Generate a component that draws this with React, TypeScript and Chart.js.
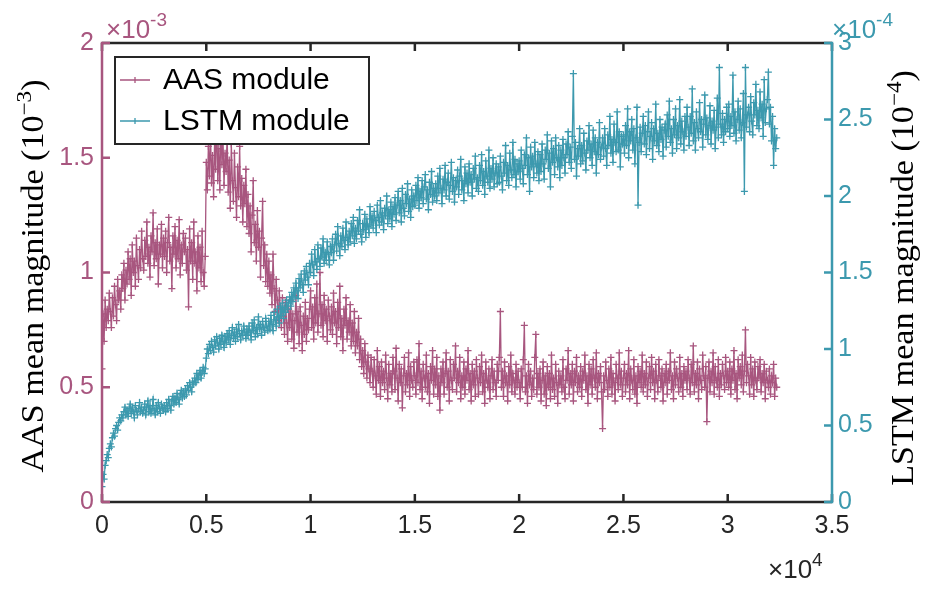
import React, { useEffect, useRef } from 'react';
import { Chart, registerables } from 'chart.js';

Chart.register(...registerables);

// iterations between logged samples
const STEP = 50;

// AAS module mean magnitude, in units of 1e-3 (one row = 1000 iterations)
const AAS_VALUES = [
  0.58, 0.82, 0.70, 0.88, 0.76, 0.84, 0.79, 0.91, 0.83, 0.76, 0.89, 0.81, 0.94, 0.86, 0.79, 0.97, 0.88, 0.92, 0.84, 0.99,
  0.93, 1.04, 0.88, 1.01, 0.95, 1.09, 0.97, 1.06, 0.90, 1.12, 1.00, 1.05, 0.94, 1.15, 1.03, 0.97, 1.10, 1.02, 1.18, 1.06,
  1.01, 1.14, 1.07, 1.22, 1.04, 1.11, 0.98, 1.16, 1.09, 1.26, 1.03, 1.13, 1.06, 1.19, 0.95, 1.12, 1.08, 1.21, 1.02, 1.15,
  1.07, 1.18, 1.00, 1.13, 1.24, 1.05, 1.11, 0.93, 1.16, 1.08, 1.20, 1.02, 1.14, 1.06, 1.23, 0.99, 1.12, 1.04, 1.17, 1.09,
  1.15, 1.01, 1.10, 0.85, 1.19, 1.05, 1.13, 0.97, 1.22, 1.04, 1.09, 0.92, 1.16, 1.02, 1.11, 0.96, 1.18, 1.00, 0.94, 1.07,
  1.48, 1.36, 1.55, 1.42, 1.63, 1.39, 1.51, 1.33, 1.58, 1.45, 1.70, 1.40, 1.54, 1.36, 1.66, 1.47, 1.59, 1.38, 1.52, 1.44,
  1.60, 1.35, 1.49, 1.28, 1.56, 1.40, 1.31, 1.52, 1.37, 1.24, 1.46, 1.33, 1.55, 1.29, 1.41, 1.22, 1.38, 1.30, 1.45, 1.20,
  1.34, 1.17, 1.29, 1.09, 1.25, 1.40, 1.13, 1.21, 1.05, 1.27, 1.11, 1.18, 0.98, 1.15, 1.31, 1.03, 1.12, 0.96, 1.08, 0.94,
  1.05, 0.91, 0.99, 0.86, 1.08, 0.93, 0.83, 0.97, 0.88, 0.79, 0.92, 0.84, 0.76, 0.89, 0.81, 0.73, 0.87, 0.78, 0.70, 0.84,
  0.76, 0.88, 0.71, 0.82, 0.67, 0.79, 0.90, 0.74, 0.83, 0.69, 0.85, 0.77, 0.66, 0.81, 0.73, 0.87, 0.70, 0.80, 0.75, 0.84,
  0.92, 0.76, 0.85, 0.71, 0.89, 0.78, 0.95, 0.74, 0.82, 1.00, 0.77, 0.86, 0.72, 0.90, 0.79, 0.84, 0.70, 0.88, 0.81, 0.75,
  0.85, 0.73, 0.91, 0.78, 0.83, 0.69, 0.87, 0.76, 0.94, 0.72, 0.80, 0.66, 0.84, 0.77, 0.89, 0.71, 0.79, 0.74, 0.86, 0.68,
  0.78, 0.70, 0.83, 0.65, 0.74, 0.68, 0.80, 0.62, 0.71, 0.59, 0.66, 0.56, 0.69, 0.61, 0.54, 0.64, 0.58, 0.52, 0.63, 0.57,
  0.50, 0.62, 0.55, 0.47, 0.66, 0.53, 0.59, 0.46, 0.61, 0.52, 0.57, 0.49, 0.64, 0.54, 0.45, 0.60, 0.51, 0.56, 0.48, 0.63,
  0.57, 0.49, 0.67, 0.54, 0.44, 0.60, 0.52, 0.58, 0.41, 0.55, 0.63, 0.48, 0.56, 0.51, 0.65, 0.46, 0.59, 0.53, 0.50, 0.61,
  0.55, 0.47, 0.62, 0.52, 0.69, 0.49, 0.57, 0.45, 0.60, 0.54, 0.50, 0.64, 0.48, 0.56, 0.43, 0.59, 0.53, 0.66, 0.47, 0.58,
  0.51, 0.63, 0.46, 0.55, 0.40, 0.58, 0.52, 0.61, 0.47, 0.56, 0.65, 0.50, 0.57, 0.44, 0.62, 0.53, 0.49, 0.60, 0.54, 0.68,
  0.48, 0.57, 0.52, 0.63, 0.45, 0.55, 0.50, 0.61, 0.47, 0.58, 0.53, 0.66, 0.49, 0.56, 0.44, 0.60, 0.51, 0.57, 0.46, 0.62,
  0.54, 0.47, 0.59, 0.52, 0.64, 0.48, 0.56, 0.43, 0.61, 0.53, 0.50, 0.58, 0.45, 0.55, 0.62, 0.49, 0.57, 0.52, 0.46, 0.60,
  0.53, 0.63, 0.83, 0.50, 0.57, 0.46, 0.61, 0.52, 0.55, 0.44, 0.59, 0.51, 0.64, 0.48, 0.56, 0.53, 0.47, 0.60, 0.50, 0.57,
  0.52, 0.45, 0.58, 0.50, 0.62, 0.77, 0.48, 0.55, 0.43, 0.60, 0.51, 0.57, 0.46, 0.54, 0.49, 0.63, 0.73, 0.47, 0.56, 0.50,
  0.58, 0.44, 0.53, 0.61, 0.47, 0.55, 0.42, 0.59, 0.50, 0.56, 0.45, 0.64, 0.49, 0.54, 0.46, 0.60, 0.52, 0.43, 0.57, 0.51,
  0.55, 0.48, 0.62, 0.50, 0.45, 0.58, 0.53, 0.66, 0.47, 0.56, 0.51, 0.60, 0.44, 0.57, 0.52, 0.63, 0.48, 0.55, 0.50, 0.59,
  0.46, 0.57, 0.53, 0.64, 0.49, 0.55, 0.43, 0.60, 0.51, 0.58, 0.47, 0.62, 0.54, 0.50, 0.65, 0.45, 0.56, 0.52, 0.59, 0.48,
  0.32, 0.55, 0.49, 0.61, 0.53, 0.46, 0.58, 0.50, 0.63, 0.47, 0.56, 0.52, 0.44, 0.60, 0.54, 0.49, 0.65, 0.51, 0.57, 0.46,
  0.54, 0.60, 0.48, 0.56, 0.51, 0.66, 0.45, 0.58, 0.53, 0.49, 0.62, 0.47, 0.55, 0.43, 0.59, 0.52, 0.57, 0.50, 0.64, 0.48,
  0.56, 0.51, 0.61, 0.46, 0.54, 0.59, 0.49, 0.63, 0.52, 0.57, 0.45, 0.60, 0.53, 0.48, 0.62, 0.55, 0.50, 0.58, 0.44, 0.56,
  0.52, 0.60, 0.47, 0.57, 0.53, 0.65, 0.49, 0.55, 0.45, 0.61, 0.51, 0.58, 0.54, 0.48, 0.63, 0.50, 0.56, 0.46, 0.59, 0.53,
  0.57, 0.49, 0.62, 0.54, 0.47, 0.60, 0.52, 0.68, 0.48, 0.56, 0.51, 0.61, 0.45, 0.58, 0.53, 0.49, 0.64, 0.55, 0.50, 0.59,
  0.35, 0.54, 0.61, 0.48, 0.57, 0.52, 0.65, 0.47, 0.59, 0.53, 0.50, 0.62, 0.46, 0.56, 0.51, 0.60, 0.55, 0.49, 0.63, 0.52,
  0.57, 0.50, 0.61, 0.47, 0.58, 0.53, 0.66, 0.49, 0.56, 0.45, 0.62, 0.54, 0.59, 0.51, 0.64, 0.48, 0.57, 0.75, 0.52, 0.60,
  0.55, 0.47, 0.63, 0.51, 0.58, 0.46, 0.61, 0.53, 0.49, 0.59, 0.54, 0.62, 0.48, 0.56, 0.52, 0.60, 0.45, 0.57, 0.53, 0.50,
  0.58, 0.47, 0.55, 0.52, 0.60, 0.46, 0.54, 0.50,
];

// LSTM module mean magnitude, in units of 1e-4 (one row = 1000 iterations)
const LSTM_VALUES = [
  0.10, 0.18, 0.15, 0.24, 0.27, 0.31, 0.29, 0.35, 0.38, 0.36, 0.42, 0.45, 0.43, 0.48, 0.50, 0.47, 0.52, 0.55, 0.53, 0.57,
  0.55, 0.59, 0.62, 0.57, 0.60, 0.56, 0.61, 0.64, 0.58, 0.62, 0.59, 0.55, 0.63, 0.60, 0.57, 0.61, 0.65, 0.59, 0.62, 0.58,
  0.60, 0.64, 0.57, 0.62, 0.66, 0.59, 0.63, 0.58, 0.61, 0.67, 0.60, 0.57, 0.63, 0.59, 0.65, 0.61, 0.58, 0.64, 0.62, 0.60,
  0.63, 0.59, 0.65, 0.61, 0.67, 0.63, 0.60, 0.66, 0.69, 0.64, 0.68, 0.65, 0.71, 0.67, 0.64, 0.70, 0.73, 0.68, 0.72, 0.69,
  0.74, 0.70, 0.76, 0.73, 0.78, 0.75, 0.72, 0.79, 0.77, 0.81, 0.78, 0.84, 0.80, 0.83, 0.86, 0.81, 0.85, 0.88, 0.84, 0.87,
  0.94, 1.00, 0.97, 1.03, 0.99, 1.05, 1.01, 0.98, 1.06, 1.02, 1.08, 1.04, 1.00, 1.07, 1.03, 1.09, 1.05, 1.01, 1.08, 1.04,
  1.10, 1.06, 1.12, 1.03, 1.09, 1.14, 1.07, 1.11, 1.05, 1.13, 1.08, 1.16, 1.10, 1.06, 1.12, 1.09, 1.15, 1.11, 1.07, 1.13,
  1.09, 1.15, 1.11, 1.06, 1.17, 1.12, 1.19, 1.08, 1.14, 1.10, 1.21, 1.13, 1.16, 1.09, 1.18, 1.14, 1.11, 1.20, 1.15, 1.12,
  1.18, 1.13, 1.22, 1.16, 1.12, 1.24, 1.19, 1.15, 1.26, 1.21, 1.17, 1.28, 1.22, 1.30, 1.20, 1.27, 1.24, 1.32, 1.26, 1.30,
  1.34, 1.28, 1.37, 1.31, 1.40, 1.34, 1.43, 1.38, 1.33, 1.46, 1.40, 1.49, 1.42, 1.37, 1.51, 1.45, 1.54, 1.47, 1.42, 1.56,
  1.50, 1.62, 1.55, 1.48, 1.65, 1.57, 1.52, 1.68, 1.59, 1.54, 1.66, 1.60, 1.72, 1.56, 1.63, 1.58, 1.70, 1.62, 1.55, 1.67,
  1.63, 1.72, 1.58, 1.68, 1.75, 1.64, 1.80, 1.69, 1.61, 1.74, 1.67, 1.79, 1.71, 1.65, 1.83, 1.73, 1.68, 1.77, 1.70, 1.82,
  1.74, 1.86, 1.69, 1.79, 1.72, 1.84, 1.77, 1.91, 1.75, 1.70, 1.82, 1.78, 1.88, 1.73, 1.85, 1.80, 1.76, 1.93, 1.81, 1.87,
  1.79, 1.90, 1.84, 1.76, 1.94, 1.86, 1.81, 1.97, 1.83, 1.89, 1.78, 1.92, 1.87, 2.00, 1.82, 1.91, 1.85, 1.96, 1.80, 1.93,
  1.88, 1.99, 1.84, 1.94, 2.03, 1.89, 1.97, 1.83, 2.05, 1.92, 1.87, 2.01, 1.95, 2.08, 1.90, 1.98, 1.86, 2.04, 1.93, 2.00,
  1.94, 2.07, 1.97, 2.12, 1.92, 2.03, 1.99, 2.10, 1.95, 2.06, 2.14, 1.98, 2.04, 1.91, 2.09, 2.01, 2.16, 1.96, 2.05, 2.00,
  2.08, 1.97, 2.13, 2.02, 2.18, 2.05, 1.95, 2.11, 2.04, 2.20, 2.00, 2.09, 2.15, 1.98, 2.07, 2.22, 2.03, 2.12, 1.96, 2.10,
  2.06, 2.17, 2.01, 2.13, 2.24, 2.04, 2.10, 1.97, 2.19, 2.08, 2.15, 2.02, 2.21, 2.09, 2.14, 2.00, 2.18, 2.11, 2.26, 2.05,
  2.12, 2.03, 2.20, 2.10, 2.27, 2.07, 2.16, 2.01, 2.23, 2.13, 2.09, 2.30, 2.05, 2.18, 2.11, 2.25, 2.06, 2.15, 2.21, 2.08,
  2.19, 2.09, 2.26, 2.13, 2.04, 2.22, 2.15, 2.33, 2.10, 2.20, 2.07, 2.28, 2.17, 2.12, 2.35, 2.14, 2.24, 2.06, 2.21, 2.16,
  2.23, 2.11, 2.30, 2.18, 2.08, 2.27, 2.20, 2.38, 2.14, 2.25, 2.03, 2.32, 2.19, 2.26, 2.12, 2.35, 2.21, 2.15, 2.29, 2.10,
  2.27, 2.16, 2.34, 2.21, 2.11, 2.30, 2.24, 2.40, 2.18, 2.28, 2.06, 2.36, 2.22, 2.31, 2.14, 2.38, 2.25, 2.19, 2.33, 2.12,
  2.30, 2.20, 2.37, 2.25, 2.15, 2.34, 2.27, 2.42, 2.22, 2.32, 2.18, 2.39, 2.80, 2.24, 2.35, 2.13, 2.31, 2.26, 2.44, 2.21,
  2.33, 2.23, 2.41, 2.28, 2.17, 2.36, 2.30, 2.46, 2.25, 2.34, 2.20, 2.43, 2.29, 2.38, 2.15, 2.35, 2.27, 2.48, 2.24, 2.32,
  2.38, 2.26, 2.44, 2.31, 2.20, 2.40, 2.33, 2.52, 2.28, 2.37, 2.22, 2.47, 2.35, 2.29, 2.55, 2.30, 2.42, 2.19, 2.39, 2.34,
  2.40, 2.28, 2.46, 2.33, 2.57, 2.25, 2.42, 2.36, 2.50, 2.30, 2.44, 2.21, 2.38, 2.58, 1.94, 2.35, 2.45, 2.29, 2.41, 2.52,
  2.34, 2.46, 2.27, 2.42, 2.55, 2.31, 2.39, 2.48, 2.24, 2.44, 2.36, 2.60, 2.33, 2.41, 2.29, 2.50, 2.37, 2.45, 2.26, 2.43,
  2.47, 2.32, 2.53, 2.39, 2.62, 2.35, 2.44, 2.28, 2.50, 2.40, 2.57, 2.31, 2.46, 2.38, 2.63, 2.34, 2.49, 2.42, 2.30, 2.52,
  2.39, 2.58, 2.45, 2.33, 2.52, 2.41, 2.70, 2.36, 2.48, 2.30, 2.55, 2.44, 2.38, 2.61, 2.42, 2.50, 2.32, 2.47, 2.66, 2.40,
  2.51, 2.37, 2.46, 2.59, 2.34, 2.49, 2.43, 2.56, 2.31, 2.45, 2.64, 2.38, 2.84, 2.47, 2.40, 2.54, 2.35, 2.50, 2.42, 2.58,
  2.44, 2.60, 2.39, 2.52, 2.46, 2.79, 2.41, 2.55, 2.36, 2.50, 2.62, 2.43, 2.57, 2.38, 2.48, 2.67, 2.03, 2.84, 2.45, 2.53,
  2.58, 2.42, 2.65, 2.49, 2.40, 2.61, 2.53, 2.73, 2.46, 2.56, 2.44, 2.68, 2.51, 2.60, 2.39, 2.76, 2.48, 2.57, 2.63, 2.81,
  2.47, 2.58, 2.36, 2.52, 2.20, 2.44, 2.31, 2.38,
];

const X_TICKS = [0, 5000, 10000, 15000, 20000, 25000, 30000, 35000];
const LEFT_TICKS = [0, 0.5, 1, 1.5, 2];
const RIGHT_TICKS = [0, 0.5, 1, 1.5, 2, 2.5, 3];

const AAS_COLOR = 'rgb(168, 86, 127)';
const LSTM_COLOR = 'rgb(60, 153, 174)';
const AXIS_COLOR = '#262626';
const SANS = '"Liberation Sans", Arial, Helvetica, sans-serif';
const SERIF = '"Liberation Serif", "Times New Roman", serif';

const toPoints = (values: number[]) => values.map((v, i) => ({ x: i * STEP, y: v }));

// draws "×10" followed by a raised exponent
function drawMultiplier(ctx: CanvasRenderingContext2D, x: number, y: number, exp: string, color: string) {
  ctx.fillStyle = color;
  ctx.textAlign = 'left';
  ctx.textBaseline = 'alphabetic';
  ctx.font = `26px ${SANS}`;
  ctx.fillText('\u00d710', x, y);
  const w = ctx.measureText('\u00d710').width;
  ctx.font = `19px ${SANS}`;
  ctx.fillText(exp, x + w, y - 12);
}

// rotated serif axis title with a superscript exponent
function drawTitle(ctx: CanvasRenderingContext2D, cx: number, cy: number, head: string, exp: string) {
  const main = 31;
  const small = 21;
  ctx.save();
  ctx.translate(cx, cy);
  ctx.rotate(-Math.PI / 2);
  ctx.scale(1.1, 1);
  ctx.fillStyle = '#000';
  ctx.textBaseline = 'middle';
  ctx.textAlign = 'left';
  ctx.font = `${main}px ${SERIF}`;
  const w1 = ctx.measureText(head).width;
  const w3 = ctx.measureText(')').width;
  ctx.font = `${small}px ${SERIF}`;
  const w2 = ctx.measureText(exp).width;
  let x = -(w1 + w2 + w3) / 2;
  ctx.font = `${main}px ${SERIF}`;
  ctx.fillText(head, x, 0);
  x += w1;
  ctx.font = `${small}px ${SERIF}`;
  ctx.fillText(exp, x, -10);
  x += w2;
  ctx.font = `${main}px ${SERIF}`;
  ctx.fillText(')', x, 0);
  ctx.restore();
}

const framePlugin = {
  id: 'frame',
  afterDraw(chart: any) {
    const { ctx, chartArea: a, scales } = chart;
    const xs = scales.x;
    const yl = scales.yL;
    const yr = scales.yR;
    const tick = 8;
    ctx.save();
    ctx.lineWidth = 2.5;
    ctx.lineCap = 'butt';

    ctx.strokeStyle = AXIS_COLOR;
    ctx.beginPath();
    ctx.moveTo(a.left, a.bottom);
    ctx.lineTo(a.right, a.bottom);
    ctx.moveTo(a.left, a.top);
    ctx.lineTo(a.right, a.top);
    X_TICKS.forEach((t) => {
      const px = xs.getPixelForValue(t);
      ctx.moveTo(px, a.bottom);
      ctx.lineTo(px, a.bottom - tick);
      ctx.moveTo(px, a.top);
      ctx.lineTo(px, a.top + tick);
    });
    ctx.stroke();

    ctx.strokeStyle = AAS_COLOR;
    ctx.beginPath();
    ctx.moveTo(a.left, a.top - 1.25);
    ctx.lineTo(a.left, a.bottom + 1.25);
    LEFT_TICKS.forEach((t) => {
      const py = yl.getPixelForValue(t);
      ctx.moveTo(a.left, py);
      ctx.lineTo(a.left + tick, py);
    });
    ctx.stroke();

    ctx.strokeStyle = LSTM_COLOR;
    ctx.beginPath();
    ctx.moveTo(a.right, a.top - 1.25);
    ctx.lineTo(a.right, a.bottom + 1.25);
    RIGHT_TICKS.forEach((t) => {
      const py = yr.getPixelForValue(t);
      ctx.moveTo(a.right, py);
      ctx.lineTo(a.right - tick, py);
    });
    ctx.stroke();

    // legend box
    const lx = 115, ly = 57, lw = 254, lh = 87;
    ctx.fillStyle = '#fff';
    ctx.fillRect(lx, ly, lw, lh);
    ctx.strokeStyle = AXIS_COLOR;
    ctx.lineWidth = 2;
    ctx.strokeRect(lx, ly, lw, lh);
    const rows = [
      { label: 'AAS module', color: AAS_COLOR, y: ly + 23 },
      { label: 'LSTM module', color: LSTM_COLOR, y: ly + 64 },
    ];
    rows.forEach((r) => {
      ctx.strokeStyle = r.color;
      ctx.lineWidth = 1.3;
      ctx.beginPath();
      ctx.moveTo(lx + 5, r.y);
      ctx.lineTo(lx + 35, r.y);
      ctx.moveTo(lx + 20, r.y - 3);
      ctx.lineTo(lx + 20, r.y + 3);
      ctx.stroke();
      ctx.fillStyle = '#000';
      ctx.font = `30px ${SANS}`;
      ctx.textAlign = 'left';
      ctx.textBaseline = 'middle';
      ctx.fillText(r.label, lx + 48, r.y + 1);
    });

    drawMultiplier(ctx, a.left + 4, 38, '-3', AAS_COLOR);
    drawMultiplier(ctx, a.right, 38, '-4', LSTM_COLOR);
    drawMultiplier(ctx, 768, 578, '4', AXIS_COLOR);

    drawTitle(ctx, 35, 276, 'AAS mean magnitude (10', '\u22123');
    drawTitle(ctx, 905, 278, 'LSTM mean magnitude (10', '\u22124');
    ctx.restore();
  },
};

const App = () => {
  const canvasRef = useRef<HTMLCanvasElement>(null);

  useEffect(() => {
    if (!canvasRef.current) return;

    const series = (label: string, values: number[], color: string, axis: string, order: number) => ({
      label,
      data: toPoints(values),
      yAxisID: axis,
      order,
      borderColor: color,
      backgroundColor: color,
      borderWidth: 1.3,
      pointStyle: 'cross',
      pointRadius: 3.5,
      pointBorderWidth: 1.3,
      pointBorderColor: color,
      pointHoverRadius: 3.5,
      tension: 0,
      fill: false,
    });

    const chart = new Chart(canvasRef.current, {
      type: 'line',
      data: {
        datasets: [
          series('AAS module', AAS_VALUES, AAS_COLOR, 'yL', 1),
          series('LSTM module', LSTM_VALUES, LSTM_COLOR, 'yR', 0),
        ],
      },
      options: {
        responsive: false,
        animation: false,
        events: [],
        layout: { padding: { top: 43, left: 0, right: 0, bottom: 0 } },
        plugins: { legend: { display: false }, tooltip: { enabled: false } },
        scales: {
          x: {
            type: 'linear',
            min: 0,
            max: 35000,
            grid: { display: false, drawTicks: false },
            border: { display: false },
            afterFit: (s: any) => { s.height = 88; },
            ticks: {
              stepSize: 5000,
              autoSkip: false,
              maxRotation: 0,
              padding: 9,
              color: AXIS_COLOR,
              font: { family: SANS, size: 25 },
              callback: (v: any) => String(Number(v) / 10000),
            },
          },
          yL: {
            type: 'linear',
            position: 'left',
            min: 0,
            max: 2,
            grid: { display: false, drawTicks: false },
            border: { display: false },
            afterFit: (s: any) => { s.width = 102; },
            ticks: {
              stepSize: 0.5,
              padding: 8,
              color: AAS_COLOR,
              font: { family: SANS, size: 25 },
              callback: (v: any) => String(v),
            },
          },
          yR: {
            type: 'linear',
            position: 'right',
            min: 0,
            max: 3,
            grid: { display: false, drawTicks: false },
            border: { display: false },
            afterFit: (s: any) => { s.width = 110; },
            ticks: {
              stepSize: 0.5,
              padding: 6,
              color: LSTM_COLOR,
              font: { family: SANS, size: 25 },
              callback: (v: any) => String(v),
            },
          },
        },
      },
      plugins: [framePlugin],
    });

    return () => {
      chart.destroy();
    };
  }, []);

  return (
    <div style={{ position: 'fixed', left: 0, top: 0, width: 942, height: 590, background: '#fff' }}>
      <canvas ref={canvasRef} width={942} height={590} />
    </div>
  );
};

export default App;
